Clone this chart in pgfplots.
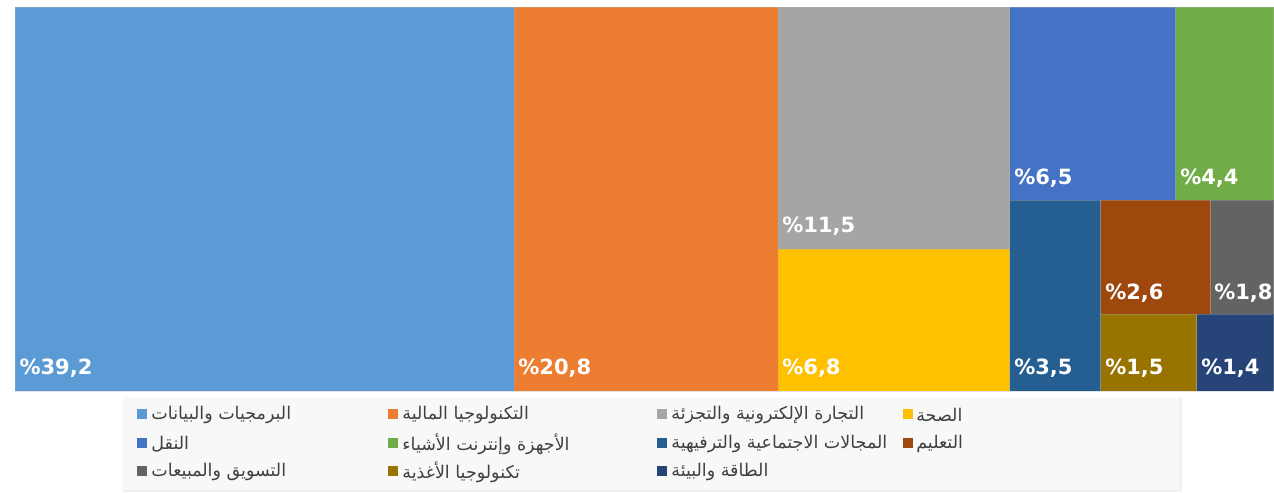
\documentclass[border=0pt]{standalone}
\usepackage{pgfplots}
\pgfplotsset{compat=1.18}
\usepackage{fontspec}
\setmainfont{DejaVu Sans}
\newfontfamily\arabicfont[Script=Arabic]{DejaVu Sans}
\TeXXeTstate=1
\definecolor{c1}{HTML}{5B9BD5}
\definecolor{c2}{HTML}{ED7D31}
\definecolor{c3}{HTML}{A5A5A5}
\definecolor{c4}{HTML}{FFC000}
\definecolor{c5}{HTML}{4472C4}
\definecolor{c6}{HTML}{70AD47}
\definecolor{c7}{HTML}{255E91}
\definecolor{c8}{HTML}{9E480E}
\definecolor{c9}{HTML}{636363}
\definecolor{c10}{HTML}{997300}
\definecolor{c11}{HTML}{264478}
\definecolor{legbg}{HTML}{F8F8F8}
\definecolor{legtxt}{HTML}{404040}
\tikzset{
  tile/.style={draw=white!70!black, draw opacity=0.35, line width=0.6pt},
  lab/.style={anchor=west, overlay, white, font=\bfseries\fontsize{21}{21}\selectfont},
  leg/.style={anchor=west, overlay, text=legtxt, font=\arabicfont\fontsize{17.5}{17.5}\selectfont}}
\begin{document}
\begin{tikzpicture}
\begin{axis}[hide axis, scale only axis, width=1274pt, height=493pt,
  xmin=0, xmax=1274, ymin=0, ymax=493, y dir=reverse, clip=false]
\path (axis cs:0,0) rectangle (axis cs:1274,493);
% legend background
\fill[black!6] (axis cs:123,398) rectangle (axis cs:1182,492);
\fill[legbg] (axis cs:122,397) rectangle (axis cs:1180,490);
% treemap tiles
\addplot[tile, fill=c1]  coordinates {(15,7) (514,7) (514,391) (15,391)} -- cycle;
\addplot[tile, fill=c2]  coordinates {(514,7) (778,7) (778,391) (514,391)} -- cycle;
\addplot[tile, fill=c3]  coordinates {(778,7) (1010,7) (1010,249) (778,249)} -- cycle;
\addplot[tile, fill=c4]  coordinates {(778,249) (1010,249) (1010,391) (778,391)} -- cycle;
\addplot[tile, fill=c5]  coordinates {(1010,7) (1176,7) (1176,200) (1010,200)} -- cycle;
\addplot[tile, fill=c6]  coordinates {(1176,7) (1274,7) (1274,200) (1176,200)} -- cycle;
\addplot[tile, fill=c7]  coordinates {(1010,200) (1101,200) (1101,391) (1010,391)} -- cycle;
\addplot[tile, fill=c8]  coordinates {(1101,200) (1211,200) (1211,314) (1101,314)} -- cycle;
\addplot[tile, fill=c9]  coordinates {(1211,200) (1274,200) (1274,314) (1211,314)} -- cycle;
\addplot[tile, fill=c10] coordinates {(1101,314) (1197,314) (1197,391) (1101,391)} -- cycle;
\addplot[tile, fill=c11] coordinates {(1197,314) (1274,314) (1274,391) (1197,391)} -- cycle;
% value labels
\node[lab] at (axis cs:16,368) {\%39,2};
\node[lab] at (axis cs:515,368) {\%20,8};
\node[lab] at (axis cs:779,226) {\%11,5};
\node[lab] at (axis cs:779,368) {\%6,8};
\node[lab] at (axis cs:1011,178) {\%6,5};
\node[lab] at (axis cs:1177,178) {\%4,4};
\node[lab] at (axis cs:1011,368) {\%3,5};
\node[lab] at (axis cs:1102,293) {\%2,6};
\node[lab] at (axis cs:1211,293) {\%1,8};
\node[lab] at (axis cs:1102,368) {\%1,5};
\node[lab] at (axis cs:1198,368) {\%1,4};
% legend markers
\addplot[only marks, mark=square*, mark size=4.5pt, color=c1]  coordinates {(141.5,414)};
\addplot[only marks, mark=square*, mark size=4.5pt, color=c2]  coordinates {(393,414)};
\addplot[only marks, mark=square*, mark size=4.5pt, color=c3]  coordinates {(662,414)};
\addplot[only marks, mark=square*, mark size=4.5pt, color=c4]  coordinates {(907.5,414)};
\addplot[only marks, mark=square*, mark size=4.5pt, color=c5]  coordinates {(141.5,443)};
\addplot[only marks, mark=square*, mark size=4.5pt, color=c6]  coordinates {(393,443)};
\addplot[only marks, mark=square*, mark size=4.5pt, color=c7]  coordinates {(662,443)};
\addplot[only marks, mark=square*, mark size=4.5pt, color=c8]  coordinates {(907.5,443)};
\addplot[only marks, mark=square*, mark size=4.5pt, color=c9]  coordinates {(141.5,471)};
\addplot[only marks, mark=square*, mark size=4.5pt, color=c10] coordinates {(393,471)};
\addplot[only marks, mark=square*, mark size=4.5pt, color=c11] coordinates {(662,471)};
% legend texts
\node[leg] at (axis cs:148,415) {\beginR البرمجيات والبيانات\endR};
\node[leg] at (axis cs:399,415) {\beginR التكنولوجيا المالية\endR};
\node[leg] at (axis cs:668,415) {\beginR التجارة الإلكترونية والتجزئة\endR};
\node[leg] at (axis cs:913,415) {\beginR الصحة\endR};
\node[leg] at (axis cs:148,444) {\beginR النقل\endR};
\node[leg] at (axis cs:399,444) {\beginR الأجهزة وإنترنت الأشياء\endR};
\node[leg] at (axis cs:668,444) {\beginR المجالات الاجتماعية والترفيهية\endR};
\node[leg] at (axis cs:913,444) {\beginR التعليم\endR};
\node[leg] at (axis cs:148,472) {\beginR التسويق والمبيعات\endR};
\node[leg] at (axis cs:399,472) {\beginR تكنولوجيا الأغذية\endR};
\node[leg] at (axis cs:668,472) {\beginR الطاقة والبيئة\endR};
\end{axis}
\end{tikzpicture}
\end{document}
